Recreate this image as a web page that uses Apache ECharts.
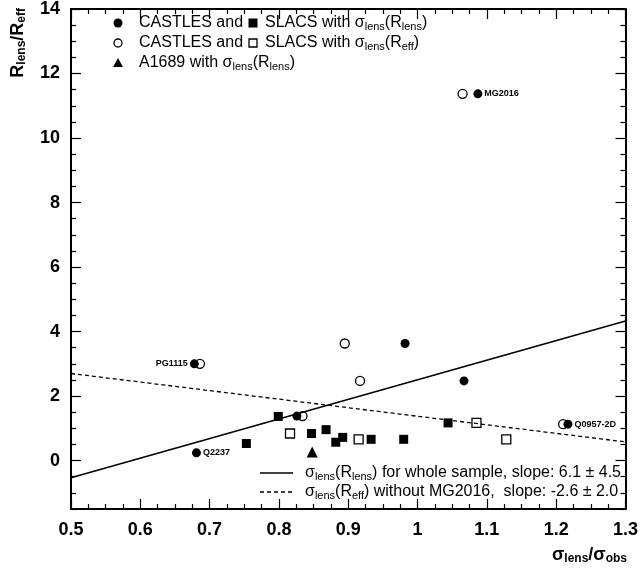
<!DOCTYPE html>
<html>
<head>
<meta charset="utf-8">
<script src="https://cdn.jsdelivr.net/npm/echarts@6/dist/echarts.min.js"></script>
<style>
html,body{margin:0;padding:0;background:#fff;}
#chart{width:641px;height:575px;}
</style>
</head>
<body>
<div id="chart"></div>
<script>
// ---- data ----
const castlesLensX = [1.087, 0.678, 0.681, 0.826, 0.982, 1.067, 1.217];
const castlesLensY = [11.37, 3.0, 0.24, 1.38, 3.63, 2.47, 1.13];
const castlesLensNames = ['MG2016', 'PG1115', 'Q2237', '', '', '', 'Q0957-2D'];
const castlesEffX = [1.065, 0.686, 0.834, 0.895, 0.917, 1.21];
const castlesEffY = [11.37, 3.0, 1.38, 3.63, 2.47, 1.13];
const slacsLensX = [0.753, 0.799, 0.847, 0.868, 0.882, 0.892, 0.933, 0.98, 1.044];
const slacsLensY = [0.53, 1.37, 0.84, 0.96, 0.57, 0.72, 0.66, 0.66, 1.17];
const slacsEffX = [0.816, 0.915, 1.085, 1.128];
const slacsEffY = [0.84, 0.66, 1.17, 0.66];
const a1689X = [0.848];
const a1689Y = [0.27];
const fitX = [0.5, 1.3];
const fitAllY = [-0.53, 4.33];
const fitNoMgY = [2.70, 0.58];
const yMajor = [0, 2, 4, 6, 8, 10, 12, 14];
const yMinor = [-1.5, -1, -0.5, 0.5, 1, 1.5, 2.5, 3, 3.5, 4.5, 5, 5.5, 6.5, 7, 7.5, 8.5, 9, 9.5, 10.5, 11, 11.5, 12.5, 13, 13.5];

const FONT = 'Liberation Sans';
const zip = (xs, ys) => xs.map((x, i) => [x, ys[i]]);

const chart = echarts.init(document.getElementById('chart'), null, {renderer: 'canvas'});

function xAx(pos, showLabel) {
  return {
    type: 'value', position: pos, min: 0.5, max: 1.3, interval: 0.1,
    axisLine: {show: true, onZero: false, lineStyle: {color: '#000', width: 2}},
    axisTick: {show: true, inside: true, length: 10, lineStyle: {color: '#000', width: 1.2}},
    minorTick: {show: true, splitNumber: 4, length: 5, lineStyle: {color: '#000', width: 1.2}},
    axisLabel: {show: showLabel, color: '#000', fontFamily: FONT, fontWeight: 'bold', fontSize: 18, margin: 12},
    splitLine: {show: false}, minorSplitLine: {show: false}
  };
}
function yAx(pos, major, showLabel) {
  return {
    type: 'value', position: pos, min: -1.5, max: 14,
    axisLine: {show: major, onZero: false, lineStyle: {color: '#000', width: 2}},
    axisTick: {show: true, inside: true, length: major ? 10 : 5, customValues: major ? yMajor : yMinor,
      lineStyle: {color: '#000', width: 1.2}},
    axisLabel: {show: showLabel, customValues: yMajor, color: '#000', fontFamily: FONT, fontWeight: 'bold', fontSize: 18, margin: 11},
    splitLine: {show: false}
  };
}

const labelStyle = {color: '#000', fontFamily: FONT, fontWeight: 'bold', fontSize: 9, distance: 2};
const sub = {fontSize: 11, padding: [7, 0, 0, 0], fontFamily: FONT, fill: '#000'};
const subB = {fontSize: 12, fontWeight: 'bold', padding: [8, 0, 0, 0], fontFamily: FONT};

const option = {
  animation: false,
  backgroundColor: '#fff',
  grid: {left: 71, right: 13, top: 9, bottom: 66, containLabel: false},
  xAxis: [xAx('bottom', true), xAx('top', false)],
  yAxis: [yAx('left', true, true), yAx('left', false, false), yAx('right', true, false), yAx('right', false, false)],
  series: [
    {type: 'scatter', name: 'castlesEff', symbol: 'circle', symbolSize: 9,
      itemStyle: {color: '#fff', borderColor: '#000', borderWidth: 1.3, opacity: 1}, data: zip(castlesEffX, castlesEffY), z: 3},
    {type: 'scatter', name: 'castlesLens', symbol: 'circle', symbolSize: 9,
      itemStyle: {color: '#000', opacity: 1}, z: 4,
      data: castlesLensX.map((x, i) => ({
        value: [x, castlesLensY[i]], name: castlesLensNames[i],
        label: {show: castlesLensNames[i] !== '', position: castlesLensNames[i] === 'PG1115' ? 'left' : 'right',
          formatter: '{b}', ...labelStyle}
      }))},
    {type: 'scatter', name: 'slacsEff', symbol: 'rect', symbolSize: 9,
      itemStyle: {color: '#fff', borderColor: '#000', borderWidth: 1.3, opacity: 1}, data: zip(slacsEffX, slacsEffY), z: 3},
    {type: 'scatter', name: 'slacsLens', symbol: 'rect', symbolSize: 9,
      itemStyle: {color: '#000', opacity: 1}, data: zip(slacsLensX, slacsLensY), z: 3},
    {type: 'scatter', name: 'a1689', symbol: 'triangle', symbolSize: 11,
      itemStyle: {color: '#000', opacity: 1}, data: zip(a1689X, a1689Y), z: 3},
    {type: 'line', name: 'fitAll', symbol: 'none', silent: true, z: 5,
      lineStyle: {color: '#000', width: 1.5, opacity: 1}, data: zip(fitX, fitAllY)},
    {type: 'line', name: 'fitNoMg', symbol: 'none', silent: true, z: 5,
      lineStyle: {color: '#000', width: 1.3, type: [4, 3], opacity: 1}, data: zip(fitX, fitNoMgY)}
  ],
  graphic: [
    // top-left legend
    {type: 'circle', shape: {cx: 118, cy: 23, r: 4.5}, style: {fill: '#000'}},
    {type: 'text', x: 139, y: 23, style: {text: 'CASTLES and', font: '16px ' + FONT, fill: '#000', verticalAlign: 'middle'}},
    {type: 'rect', shape: {x: 248.5, y: 18.5, width: 9, height: 9}, style: {fill: '#000'}},
    {type: 'text', x: 265, y: 23, style: {text: 'SLACS with σ{s|lens}(R{s|lens})', font: '16px ' + FONT, fill: '#000', verticalAlign: 'middle', rich: {s: sub}}},
    {type: 'circle', shape: {cx: 118, cy: 43, r: 4}, style: {fill: '#fff', stroke: '#000', lineWidth: 1.3}},
    {type: 'text', x: 139, y: 43, style: {text: 'CASTLES and', font: '16px ' + FONT, fill: '#000', verticalAlign: 'middle'}},
    {type: 'rect', shape: {x: 249, y: 39, width: 8, height: 8}, style: {fill: '#fff', stroke: '#000', lineWidth: 1.3}},
    {type: 'text', x: 265, y: 43, style: {text: 'SLACS with σ{s|lens}(R{s|eff})', font: '16px ' + FONT, fill: '#000', verticalAlign: 'middle', rich: {s: sub}}},
    {type: 'polygon', shape: {points: [[118, 58], [123, 67], [113, 67]]}, style: {fill: '#000'}},
    {type: 'text', x: 139, y: 63, style: {text: 'A1689 with σ{s|lens}(R{s|lens})', font: '16px ' + FONT, fill: '#000', verticalAlign: 'middle', rich: {s: sub}}},
    // bottom-right legend
    {type: 'line', shape: {x1: 260, y1: 473, x2: 293, y2: 473}, style: {stroke: '#000', lineWidth: 1.5}},
    {type: 'text', x: 305, y: 473, style: {text: 'σ{s|lens}(R{s|lens}) for whole sample, slope: 6.1 ± 4.5', font: '16px ' + FONT, fill: '#000', verticalAlign: 'middle', rich: {s: sub}}},
    {type: 'line', shape: {x1: 260, y1: 492, x2: 293, y2: 492}, style: {stroke: '#000', lineWidth: 1.3, lineDash: [4, 3]}},
    {type: 'text', x: 305, y: 492, style: {text: 'σ{s|lens}(R{s|eff}) without MG2016,  slope: -2.6 ± 2.0', font: '16px ' + FONT, fill: '#000', verticalAlign: 'middle', rich: {s: sub}}},
    // axis titles
    {type: 'text', x: 627, y: 555, style: {text: 'σ{s|lens}/σ{s|obs}', font: 'bold 18px ' + FONT, fill: '#000', align: 'right', verticalAlign: 'middle', rich: {s: subB}}},
    {type: 'text', x: 18, y: 8, rotation: Math.PI / 2, style: {text: 'R{s|lens}/R{s|eff}', font: 'bold 18px ' + FONT, fill: '#000', align: 'right', verticalAlign: 'middle', rich: {s: subB}}}
  ]
};
chart.setOption(option);
</script>
</body>
</html>
